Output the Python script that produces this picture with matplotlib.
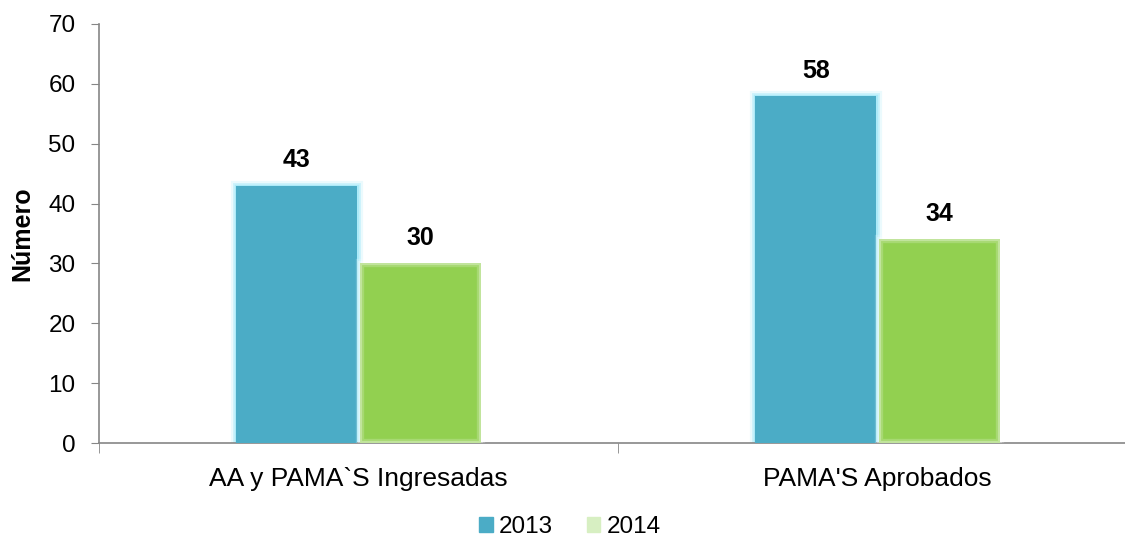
import matplotlib
matplotlib.use("Agg")
import matplotlib.pyplot as plt
import numpy as np

categories = ["AA y PAMA`S Ingresadas", "PAMA'S Aprobados"]
years = ["2013", "2014"]
values_2013 = [43, 58]
values_2014 = [30, 34]

plt.rcParams["font.family"] = ["Liberation Sans", "DejaVu Sans"]

fig = plt.figure(figsize=(11.25, 5.39), dpi=100)
ax = fig.add_axes([99 / 1125, 96 / 539, 1038 / 1125, 419 / 539])

x = np.arange(len(categories))
w = 0.233
off = 0.119

c13 = "#4BACC6"
c14 = "#92D050"
glow = "#9FE7F8"

# glow around 2013 bars
for lw, a in [(8, 0.2), (5, 0.4), (2.5, 0.7)]:
    ax.bar(x - off, values_2013, w, facecolor="none", edgecolor=glow,
           linewidth=lw, alpha=a, zorder=2)
ax.bar(x - off, values_2013, w, color=c13, label=years[0], zorder=3)

# soft edges on 2014 bars
ax.bar(x + off, values_2014, w, color=c14, label=years[1], zorder=3)
for lw, a in [(6, 0.2), (3, 0.3)]:
    ax.bar(x + off, values_2014, w, facecolor="none", edgecolor="white",
           linewidth=lw, alpha=a, zorder=4)

for xi, v in zip(x - off, values_2013):
    ax.text(xi, v + 2.2, str(v), ha="center", va="bottom",
            fontsize=18, fontweight="bold")
for xi, v in zip(x + off, values_2014):
    ax.text(xi, v + 2.2, str(v), ha="center", va="bottom",
            fontsize=18, fontweight="bold")

ax.set_ylim(0, 70)
ax.set_xlim(-0.5, 1.5)
ax.set_yticks(range(0, 71, 10))
ax.tick_params(axis="y", labelsize=17.5, length=6, color="#868686", pad=11)

ax.set_xticks(x)
ax.set_xticklabels(categories, fontsize=19)
ax.tick_params(axis="x", length=0, pad=17)
ax.set_xticks([-0.5, 0.5, 1.5], minor=True)
ax.tick_params(axis="x", which="minor", length=7, color="#868686")

for s in ["top", "right"]:
    ax.spines[s].set_visible(False)
for s in ["left", "bottom"]:
    ax.spines[s].set_color("#868686")
    ax.spines[s].set_linewidth(1.2)

ax.set_ylabel("Número", fontsize=18, fontweight="bold")
ax.yaxis.set_label_coords(-0.062, 0.5)

h1 = plt.Rectangle((0, 0), 1, 1, color=c13)
h2 = plt.Rectangle((0, 0), 1, 1, color="#D7EFC2")
fig.legend([h1, h2], years, loc="center", bbox_to_anchor=(570 / 1125, 1 - 527 / 539),
           ncol=2, frameon=False, fontsize=17.5, handlelength=0.55, handleheight=0.55,
           handletextpad=0.25, columnspacing=1.4)

fig.savefig("out.png", dpi=100)
